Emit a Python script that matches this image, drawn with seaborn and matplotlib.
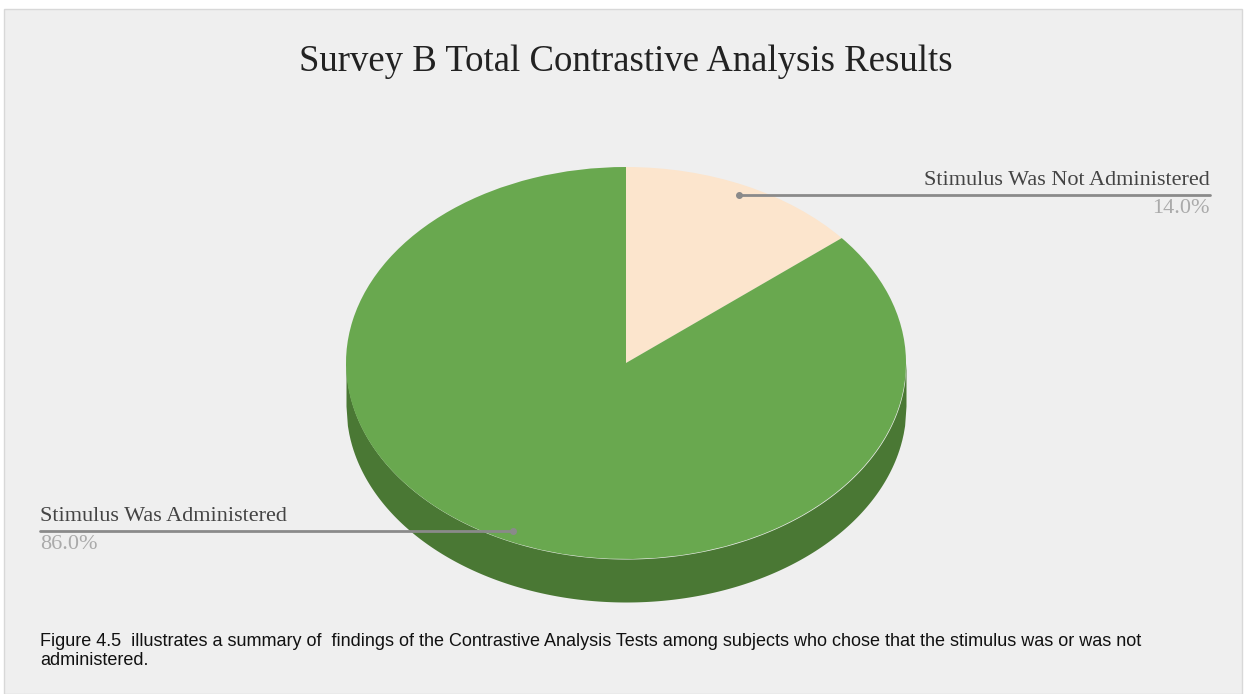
import numpy as np
import seaborn as sns
import matplotlib.pyplot as plt
from matplotlib.patches import Rectangle

# data
labels = ['Stimulus Was Not Administered', 'Stimulus Was Administered']
values = [14.0, 86.0]
top_colors = ['#fce5cd', '#69a84f']
side_color = '#4a7834'
title = 'Survey B Total Contrastive Analysis Results'
caption = ('Figure 4.5  illustrates a summary of  findings of the Contrastive Analysis Tests '
           'among subjects who chose that the stimulus was or was not\nadministered.')

sns.set_style('white')
plt.rcParams['font.family'] = ['Liberation Serif', 'DejaVu Serif']

W, H = 1249, 694
fig = plt.figure(figsize=(W / 100, H / 100), dpi=100)
fig.patch.set_facecolor('white')
fig.patches.append(Rectangle((4 / W, 0), 1238 / W, (H - 9) / H, transform=fig.transFigure,
                             facecolor='#efefef', edgecolor='#d8d8d8', linewidth=1, zorder=-1))

# pie axes: unit circle mapped onto the tilted ellipse
cx, cy, rx, ry, depth = 626, 363, 280, 196, 43
d = depth / ry
ax = fig.add_axes([(cx - rx) / W, (H - (cy + ry + depth)) / H,
                   2 * rx / W, (2 * ry + depth) / H], zorder=1)
wedges, _ = ax.pie(values, colors=top_colors, startangle=90, counterclock=False,
                   wedgeprops=dict(linewidth=0))
xs = np.linspace(-1, 1, 400)
edge = -np.sqrt(np.clip(1 - xs ** 2, 0, None))
ax.fill_between(xs, edge - d, edge, color=side_color, linewidth=0, zorder=0)
ax.set_xlim(-1, 1)
ax.set_ylim(-1 - d, 1)
ax.set_aspect('auto')
ax.axis('off')

# overlay in pixel coords for texts and leader lines (drawn above the pie)
over = fig.add_axes([0, 0, 1, 1], zorder=2)
over.set_xlim(0, W)
over.set_ylim(H, 0)
over.axis('off')

over.text(W / 2 + 1, 62, title, ha='center', va='center', fontsize=26.5, color='#222222')

# leader lines + labels
fig.canvas.draw()
to_over = over.transData.inverted()
ends = [1210, 40]
for w, lab, val, xe in zip(wedges, labels, values, ends):
    ang = np.deg2rad((w.theta1 + w.theta2) / 2)
    px, py = to_over.transform(ax.transData.transform((0.95 * np.cos(ang), 0.95 * np.sin(ang))))
    over.plot([px, xe], [py, py], color='#8a8a8a', lw=2)
    over.plot(px, py, 'o', color='#8a8a8a', ms=4)
    ha = 'right' if xe > px else 'left'
    over.text(xe, py - 5, lab, ha=ha, va='bottom', fontsize=16, color='#444444')
    over.text(xe, py + 4, f'{val:.1f}%', ha=ha, va='top', fontsize=16, color='#aaaaaa')

over.text(40, 651, caption, ha='left', va='center', fontsize=13, color='#111111',
          family=['Liberation Sans', 'DejaVu Sans'], linespacing=1.2)

fig.savefig('out.png', dpi=100)
